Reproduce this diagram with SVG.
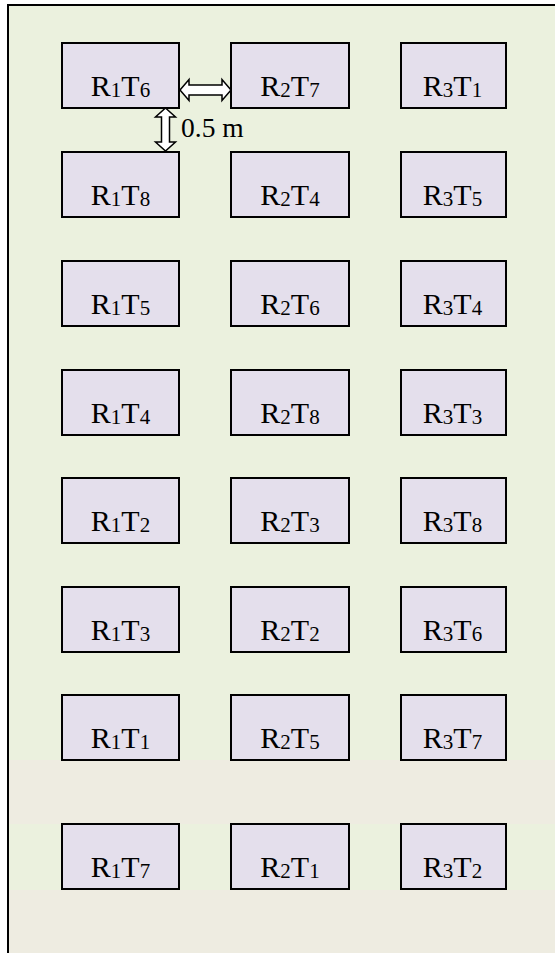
<svg xmlns="http://www.w3.org/2000/svg" width="555" height="953" viewBox="0 0 555 953">
<style>
.box{fill:#E4DFEC;stroke:#000;stroke-width:2}
.lbl{font-family:"Liberation Serif","Times New Roman",serif;font-size:30px;fill:#000;text-anchor:middle}
.sub{font-size:21px}
.arr{fill:#fff;stroke:#000;stroke-width:1.5;stroke-linejoin:miter}
.dim{font-family:"Liberation Serif","Times New Roman",serif;font-size:27.5px;fill:#000}
</style>
<rect x="0" y="0" width="555" height="953" fill="#fff"/>
<g id="field">
<rect x="8" y="5" width="547" height="755" fill="#EBF1DE"/>
<rect x="8" y="760" width="547" height="64" fill="#EEECE1"/>
<rect x="8" y="824" width="547" height="66" fill="#EBF1DE"/>
<rect x="8" y="890" width="547" height="63" fill="#EEECE1"/>
<line x1="7" y1="5" x2="555" y2="5" stroke="#000" stroke-width="2"/>
<line x1="8" y1="4" x2="8" y2="953" stroke="#000" stroke-width="2"/>
</g>
<g id="r1t6"><rect class="box" x="62" y="43" width="117" height="65"/><text class="lbl" x="120.5" y="96">R<tspan class="sub" dy="1">1</tspan><tspan dy="-1">T</tspan><tspan class="sub" dy="1">6</tspan></text></g>
<g id="r2t7"><rect class="box" x="231" y="43" width="118" height="65"/><text class="lbl" x="290" y="96">R<tspan class="sub" dy="1">2</tspan><tspan dy="-1">T</tspan><tspan class="sub" dy="1">7</tspan></text></g>
<g id="r3t1"><rect class="box" x="401" y="43" width="105" height="65"/><text class="lbl" x="452.5" y="96">R<tspan class="sub" dy="1">3</tspan><tspan dy="-1">T</tspan><tspan class="sub" dy="1">1</tspan></text></g>

<g id="r1t8"><rect class="box" x="62" y="152" width="117" height="65"/><text class="lbl" x="120.5" y="205">R<tspan class="sub" dy="1">1</tspan><tspan dy="-1">T</tspan><tspan class="sub" dy="1">8</tspan></text></g>
<g id="r2t4"><rect class="box" x="231" y="152" width="118" height="65"/><text class="lbl" x="290" y="205">R<tspan class="sub" dy="1">2</tspan><tspan dy="-1">T</tspan><tspan class="sub" dy="1">4</tspan></text></g>
<g id="r3t5"><rect class="box" x="401" y="152" width="105" height="65"/><text class="lbl" x="452.5" y="205">R<tspan class="sub" dy="1">3</tspan><tspan dy="-1">T</tspan><tspan class="sub" dy="1">5</tspan></text></g>

<g id="r1t5"><rect class="box" x="62" y="261" width="117" height="65"/><text class="lbl" x="120.5" y="314">R<tspan class="sub" dy="1">1</tspan><tspan dy="-1">T</tspan><tspan class="sub" dy="1">5</tspan></text></g>
<g id="r2t6"><rect class="box" x="231" y="261" width="118" height="65"/><text class="lbl" x="290" y="314">R<tspan class="sub" dy="1">2</tspan><tspan dy="-1">T</tspan><tspan class="sub" dy="1">6</tspan></text></g>
<g id="r3t4"><rect class="box" x="401" y="261" width="105" height="65"/><text class="lbl" x="452.5" y="314">R<tspan class="sub" dy="1">3</tspan><tspan dy="-1">T</tspan><tspan class="sub" dy="1">4</tspan></text></g>

<g id="r1t4"><rect class="box" x="62" y="370" width="117" height="65"/><text class="lbl" x="120.5" y="423">R<tspan class="sub" dy="1">1</tspan><tspan dy="-1">T</tspan><tspan class="sub" dy="1">4</tspan></text></g>
<g id="r2t8"><rect class="box" x="231" y="370" width="118" height="65"/><text class="lbl" x="290" y="423">R<tspan class="sub" dy="1">2</tspan><tspan dy="-1">T</tspan><tspan class="sub" dy="1">8</tspan></text></g>
<g id="r3t3"><rect class="box" x="401" y="370" width="105" height="65"/><text class="lbl" x="452.5" y="423">R<tspan class="sub" dy="1">3</tspan><tspan dy="-1">T</tspan><tspan class="sub" dy="1">3</tspan></text></g>

<g id="r1t2"><rect class="box" x="62" y="478" width="117" height="65"/><text class="lbl" x="120.5" y="531">R<tspan class="sub" dy="1">1</tspan><tspan dy="-1">T</tspan><tspan class="sub" dy="1">2</tspan></text></g>
<g id="r2t3"><rect class="box" x="231" y="478" width="118" height="65"/><text class="lbl" x="290" y="531">R<tspan class="sub" dy="1">2</tspan><tspan dy="-1">T</tspan><tspan class="sub" dy="1">3</tspan></text></g>
<g id="r3t8"><rect class="box" x="401" y="478" width="105" height="65"/><text class="lbl" x="452.5" y="531">R<tspan class="sub" dy="1">3</tspan><tspan dy="-1">T</tspan><tspan class="sub" dy="1">8</tspan></text></g>

<g id="r1t3"><rect class="box" x="62" y="587" width="117" height="65"/><text class="lbl" x="120.5" y="640">R<tspan class="sub" dy="1">1</tspan><tspan dy="-1">T</tspan><tspan class="sub" dy="1">3</tspan></text></g>
<g id="r2t2"><rect class="box" x="231" y="587" width="118" height="65"/><text class="lbl" x="290" y="640">R<tspan class="sub" dy="1">2</tspan><tspan dy="-1">T</tspan><tspan class="sub" dy="1">2</tspan></text></g>
<g id="r3t6"><rect class="box" x="401" y="587" width="105" height="65"/><text class="lbl" x="452.5" y="640">R<tspan class="sub" dy="1">3</tspan><tspan dy="-1">T</tspan><tspan class="sub" dy="1">6</tspan></text></g>

<g id="r1t1"><rect class="box" x="62" y="695" width="117" height="65"/><text class="lbl" x="120.5" y="748">R<tspan class="sub" dy="1">1</tspan><tspan dy="-1">T</tspan><tspan class="sub" dy="1">1</tspan></text></g>
<g id="r2t5"><rect class="box" x="231" y="695" width="118" height="65"/><text class="lbl" x="290" y="748">R<tspan class="sub" dy="1">2</tspan><tspan dy="-1">T</tspan><tspan class="sub" dy="1">5</tspan></text></g>
<g id="r3t7"><rect class="box" x="401" y="695" width="105" height="65"/><text class="lbl" x="452.5" y="748">R<tspan class="sub" dy="1">3</tspan><tspan dy="-1">T</tspan><tspan class="sub" dy="1">7</tspan></text></g>

<g id="r1t7"><rect class="box" x="62" y="824" width="117" height="65"/><text class="lbl" x="120.5" y="877">R<tspan class="sub" dy="1">1</tspan><tspan dy="-1">T</tspan><tspan class="sub" dy="1">7</tspan></text></g>
<g id="r2t1"><rect class="box" x="231" y="824" width="118" height="65"/><text class="lbl" x="290" y="877">R<tspan class="sub" dy="1">2</tspan><tspan dy="-1">T</tspan><tspan class="sub" dy="1">1</tspan></text></g>
<g id="r3t2"><rect class="box" x="401" y="824" width="105" height="65"/><text class="lbl" x="452.5" y="877">R<tspan class="sub" dy="1">3</tspan><tspan dy="-1">T</tspan><tspan class="sub" dy="1">2</tspan></text></g>

<g id="connectors">
<path class="arr" d="M180,90 L189,79.5 L189,85 L222,85 L222,79.5 L231,90 L222,100.5 L222,95 L189,95 L189,100.5 Z"/>
<path class="arr" d="M165.5,108 L175.5,117 L169.5,117 L169.5,142 L175.5,142 L165.5,151 L155.5,142 L161.5,142 L161.5,117 L155.5,117 Z"/>
<text class="dim" x="181" y="137">0.5 m</text>
</g>
</svg>
